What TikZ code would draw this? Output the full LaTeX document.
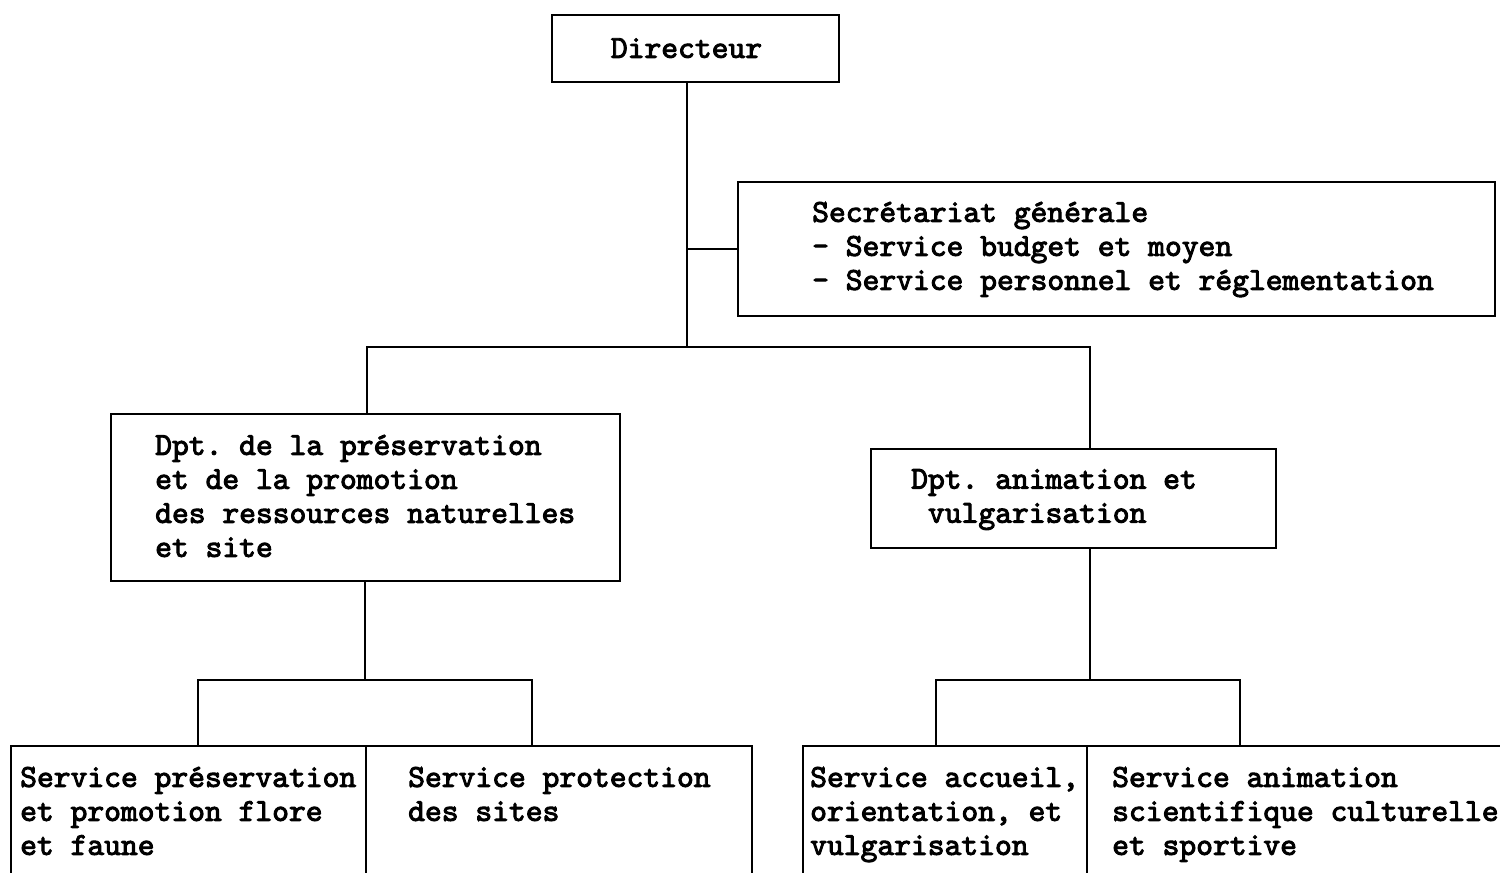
\documentclass[tikz,border=0pt]{standalone}
\usepackage{fontspec}
\newfontfamily\courfont{lmmono10-regular.otf}[FakeBold=3]
\frenchspacing
\begin{document}
\begin{tikzpicture}[x=1pt,y=-1pt,
  box/.style={draw, line width=2.4pt, inner sep=0pt, anchor=north west},
  txt/.style={font=\courfont\fontsize{32}{34}\selectfont, align=left, inner sep=0pt, anchor=west,
    execute at begin node=\strut, execute at end node=\strut},
  link/.style={line width=2.4pt}]
\useasboundingbox (0,0) rectangle (1500,873);
\clip (0,0) rectangle (1500,873);
% boxes
\node[box, minimum width=287pt, minimum height=67pt] (dir) at (551,14) {};
\node[txt, anchor=center] (dirt) at (686.5,51) {Directeur};
\node[box, minimum width=757pt, minimum height=134pt] (sec) at (737,181) {};
\node[txt] (sect) at (812,251) {Secrétariat générale\\- Service budget et moyen\\- Service personnel et réglementation};
\node[box, minimum width=509pt, minimum height=167pt] (dpA) at (110,413) {};
\node[txt] (dpAt) at (155,501) {Dpt. de la préservation\\et de la promotion\\des ressources naturelles\\et site};
\node[box, minimum width=405pt, minimum height=99pt] (dpB) at (870,448) {};
\node[txt] (dpBt) at (911,501) {Dpt. animation et\\\hspace*{16.8pt}vulgarisation};
\node[box, minimum width=355pt, minimum height=135pt] (s1) at (10,745) {};
\node[txt] (s1t) at (20,816) {Service préservation\\et promotion flore\\et faune};
\node[box, minimum width=386pt, minimum height=135pt] (s2) at (365,745) {};
\node[txt] (s2t) at (408,799) {Service protection\\des sites};
\node[box, minimum width=284pt, minimum height=135pt] (s3) at (802,745) {};
\node[txt] (s3t) at (810,816) {Service accueil,\\orientation, et\\vulgarisation};
\node[box, minimum width=440pt, minimum height=135pt] (s4) at (1086,745) {};
\node[txt] (s4t) at (1112,816) {Service animation\\scientifique culturelle\\et sportive};
% junction points
\coordinate (hub) at (687,347);
\coordinate (jA) at (367,347);
\coordinate (jB) at (1090,347);
\coordinate (kA) at (365,680);
\coordinate (bA1) at (198,680);
\coordinate (bA2) at (532,680);
\coordinate (kB) at (1090,680);
\coordinate (bB1) at (936,680);
\coordinate (bB2) at (1240,680);
% connectors
\draw[link] (dir.south -| hub) -- (hub);
\draw[link] (hub |- sec.west) -- (sec.west);
\draw[link] (jA |- dpA.north) -- (jA) -- (jB) -- (jB |- dpB.north);
\draw[link] (dpA.south -| kA) -- (kA);
\draw[link] (bA1 |- s1.north) -- (bA1) -- (bA2) -- (bA2 |- s2.north);
\draw[link] (dpB.south -| kB) -- (kB);
\draw[link] (bB1 |- s3.north) -- (bB1) -- (bB2) -- (bB2 |- s4.north);
\end{tikzpicture}
\end{document}
